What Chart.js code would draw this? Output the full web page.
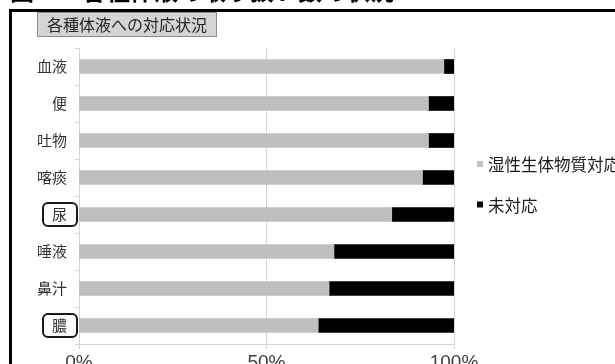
<!DOCTYPE html>
<html>
<head>
<meta charset="utf-8">
<script src="https://cdn.jsdelivr.net/npm/chart.js@4/dist/chart.umd.min.js"></script>
<style>
html,body{margin:0;padding:0;background:#fff;}
#wrap{position:relative;width:615px;height:364px;}
</style>
</head>
<body>
<div id="wrap"><canvas id="c"></canvas></div>
<script>
const categories = ["血液", "便", "吐物", "喀痰", "尿", "唾液", "鼻汁", "膿"];
const handledValues = [97.3, 93.2, 93.2, 91.6, 83.4, 68.0, 66.7, 63.8];
const unhandledValues = [2.7, 6.8, 6.8, 8.4, 16.6, 32.0, 33.3, 36.2];
const seriesNames = ["湿性生体物質対応", "未対応"];
const boxedCategories = ["尿", "膿"];
const xTicks = [0, 50, 100];
const chartTitle = "各種体液への対応状況";
const pageHeading = "図　　各種体液の取り扱い数の状況";

const JP = '"Noto Sans CJK JP", "Noto Sans", sans-serif';
const LAT = '"Liberation Sans", Arial, sans-serif';
const colors = ["#bfbfbf", "#000000"];

const decor = {
  id: 'decor',
  afterDraw(chart) {
    const ctx = chart.ctx;
    const y = chart.scales.y;
    ctx.save();
    // cut-off page heading
    ctx.fillStyle = '#000';
    ctx.font = 'bold 24px ' + JP;
    ctx.textBaseline = 'alphabetic';
    ctx.textAlign = 'left';
    ctx.fillText(pageHeading, 10, 0);
    // frame
    ctx.strokeStyle = '#000';
    ctx.lineWidth = 3;
    ctx.beginPath();
    ctx.moveTo(10.5, 370);
    ctx.lineTo(10.5, 10.5);
    ctx.lineTo(620, 10.5);
    ctx.stroke();
    // title box
    ctx.fillStyle = '#d4d4d4';
    ctx.fillRect(37.5, 12.5, 179, 24);
    ctx.strokeStyle = '#8c8c8c';
    ctx.lineWidth = 1;
    ctx.strokeRect(37.5, 12.5, 179, 24);
    ctx.fillStyle = '#262626';
    ctx.font = '16px ' + JP;
    ctx.textBaseline = 'middle';
    ctx.textAlign = 'center';
    ctx.fillText(chartTitle, 127, 25);
    // rounded boxes around selected category labels
    ctx.strokeStyle = '#1a1a1a';
    ctx.lineWidth = 2;
    boxedCategories.forEach(name => {
      const idx = categories.indexOf(name);
      const cy = y.getPixelForValue(idx);
      ctx.beginPath();
      ctx.roundRect(43, cy - 11.5, 34, 23, 5);
      ctx.stroke();
    });
    // legend
    const legendY = [164, 204.5];
    ctx.font = '16.5px ' + JP;
    ctx.textAlign = 'left';
    ctx.textBaseline = 'middle';
    chart.data.datasets.forEach((ds, i) => {
      ctx.fillStyle = ds.backgroundColor;
      ctx.fillRect(477, legendY[i] - 3, 6, 6);
      ctx.fillStyle = '#1a1a1a';
      ctx.fillText(ds.label, 488, legendY[i] + 1);
    });
    ctx.restore();
  }
};

new Chart(document.getElementById('c'), {
  type: 'bar',
  data: {
    labels: categories,
    datasets: [
      { label: seriesNames[0], data: handledValues, backgroundColor: colors[0], barThickness: 14 },
      { label: seriesNames[1], data: unhandledValues, backgroundColor: colors[1], barThickness: 14 }
    ]
  },
  options: {
    indexAxis: 'y',
    responsive: true,
    maintainAspectRatio: false,
    devicePixelRatio: 1,
    animation: false,
    layout: { padding: { left: 0, top: 48, right: 161, bottom: 0 } },
    plugins: { legend: { display: false }, tooltip: { enabled: false }, title: { display: false } },
    scales: {
      x: {
        stacked: true,
        min: 0, max: 100,
        afterBuildTicks(scale) { scale.ticks = xTicks.map(v => ({ value: v })); },
        afterFit(scale) { scale.height = 20; },
        ticks: {
          callback: v => v + '%',
          font: { family: LAT, size: 19 },
          color: '#404040',
          padding: 2,
          maxRotation: 0
        },
        grid: { color: '#d4d4d4', lineWidth: 1, drawTicks: true, tickLength: 5 },
        border: { color: '#d4d4d4', width: 1 }
      },
      y: {
        stacked: true,
        afterFit(scale) { scale.width = 79; },
        ticks: {
          font: { family: JP, size: 15 },
          color: '#333333',
          padding: 8
        },
        grid: { drawOnChartArea: false, drawTicks: true, tickLength: 4, color: '#d4d4d4', offset: true },
        border: { color: '#d4d4d4', width: 1 }
      }
    }
  },
  plugins: [decor]
});
</script>
</body>
</html>
